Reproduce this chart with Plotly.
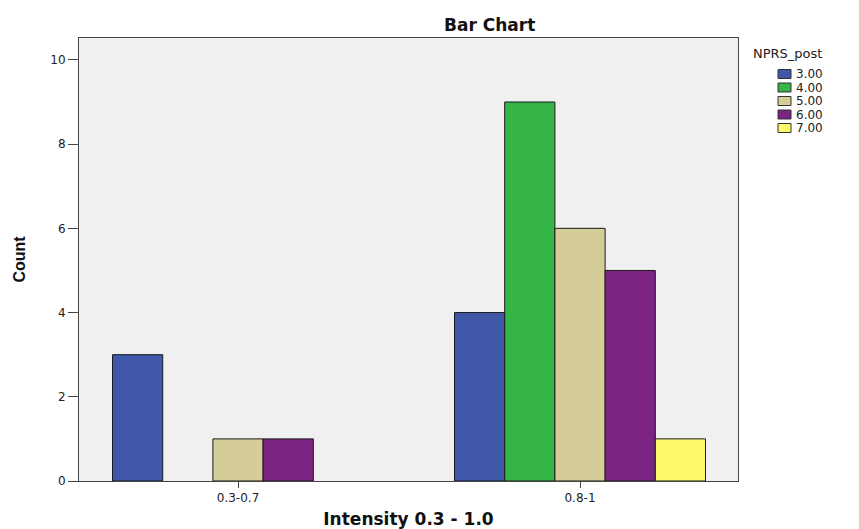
import plotly.graph_objects as go

categories = ["0.3-0.7", "0.8-1"]
series_names = ["3.00", "4.00", "5.00", "6.00", "7.00"]
counts_3 = [3, 4]
counts_4 = [None, 9]
counts_5 = [1, 6]
counts_6 = [1, 5]
counts_7 = [None, 1]
series_values = [counts_3, counts_4, counts_5, counts_6, counts_7]
colors = ["#3F58A9", "#35B548", "#D4CD97", "#7B2481", "#FCF96B"]
y_ticks = [0, 2, 4, 6, 8, 10]

W, H = 859, 529
L, R, T, B = 79, 738, 38, 481
FONT = "DejaVu Sans, Liberation Sans, Arial"

fig = go.Figure()
for name, vals, col in zip(series_names, series_values, colors):
    fig.add_trace(go.Bar(
        x=categories, y=vals, name=name, showlegend=False,
        marker=dict(color=col, line=dict(color="#1a1a1a", width=1)),
    ))

def px_x(px):
    return (px - L) / (R - L)

def px_y(py):
    return (B - py) / (B - T)

annotations = [
    dict(text="<b>Bar Chart</b>", x=px_x(489), y=px_y(25), xref="paper", yref="paper",
         showarrow=False, font=dict(family=FONT, size=17, color="#111"),
         xanchor="center", yanchor="middle"),
    dict(text="NPRS_post", x=px_x(751), y=px_y(53), xref="paper", yref="paper",
         showarrow=False, font=dict(family=FONT, size=13, color="#222"),
         xanchor="left", yanchor="middle"),
]
shapes = []
for i, (name, col) in enumerate(zip(series_names, colors)):
    cy = 74 + i * 13.5
    shapes.append(dict(type="rect", xref="paper", yref="paper",
                       x0=px_x(778), x1=px_x(791), y0=px_y(cy + 4.5), y1=px_y(cy - 4.5),
                       fillcolor=col, line=dict(color="#333", width=1)))
    annotations.append(dict(text=name, x=px_x(794), y=px_y(cy), xref="paper", yref="paper",
                            showarrow=False, font=dict(family=FONT, size=12, color="#222"),
                            xanchor="left", yanchor="middle"))

fig.update_layout(
    width=W, height=H,
    margin=dict(l=L, r=W - R, t=T, b=H - B, pad=0, autoexpand=False),
    paper_bgcolor="white", plot_bgcolor="#F0F0F0",
    barmode="group", bargap=0.266, bargroupgap=0,
    annotations=annotations, shapes=shapes,
    font=dict(family=FONT, color="#222"),
)
fig.update_xaxes(
    type="category", range=[-0.465, 1.462], automargin=False,
    showline=True, linecolor="#444", linewidth=1, mirror=True,
    ticks="outside", ticklen=6, tickcolor="#444",
    tickfont=dict(family=FONT, size=12, color="#222"),
    title=dict(text="<b>Intensity 0.3 - 1.0</b>", font=dict(family=FONT, size=17, color="#111"), standoff=9),
    showgrid=False,
)
fig.update_yaxes(
    range=[0, 10.52], tickvals=y_ticks, automargin=False,
    showline=True, linecolor="#444", linewidth=1, mirror=True,
    ticks="outside", ticklen=10, tickcolor="#444",
    tickfont=dict(family=FONT, size=12, color="#222"),
    title=dict(text="<b>Count</b>", font=dict(family="Liberation Sans Narrow, Arial Narrow, Liberation Sans", size=16, color="#111"), standoff=20),
    showgrid=False, zeroline=False,
)

fig.write_html("out.html", post_script="document.body.style.margin='0';",
               config={"displayModeBar": False})
